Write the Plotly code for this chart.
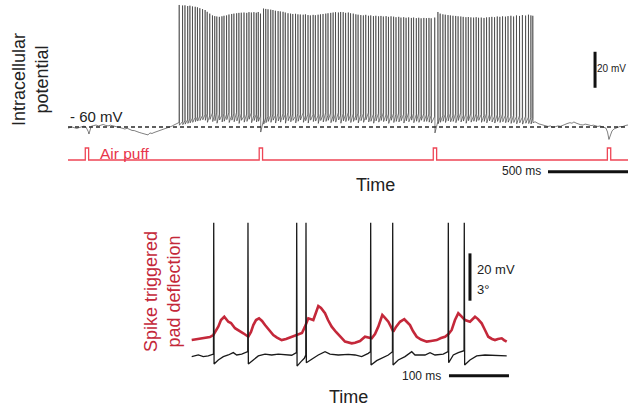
import plotly.graph_objects as go

W, H = 628, 406

# ---------------- Top panel data (ms, mV) ----------------
resting_mv = -60
top_span_ms = [0, 3500]

pre_t = [0, 12, 25, 40, 55, 70, 85, 100, 112, 120, 126, 131, 137, 145, 160, 175, 190, 205, 220, 235,
         250, 265, 280, 295, 310, 325, 340, 355, 370, 385, 400, 415, 430, 445, 460, 475, 490, 500, 512, 525,
         537, 550, 562, 575, 587, 600, 612, 625, 637, 650, 662, 675, 688]
pre_mv = [-60.6, -60.1, -60.0, -60.4, -60.8, -60.3, -59.8, -59.5, -60.0, -61.0,
          -62.4, -63.9, -61.7, -59.6, -59.2, -58.9, -59.4, -59.0, -58.6, -59.1,
          -59.4, -59.0, -59.2, -59.7, -60.0, -60.3, -60.9, -61.1, -60.7, -61.3,
          -61.9, -62.0, -62.3, -63.0, -63.4, -63.9, -64.2, -64.4, -63.3, -63.6,
          -63.1, -62.7, -62.5, -62.0, -61.7, -61.2, -60.6, -60.4, -60.0, -59.5,
          -58.9, -58.3, -57.8]

spike_t = [695, 716, 731, 748, 762, 778, 795, 809, 824, 841,
           857, 870, 886, 903, 917, 930, 946, 962, 975, 991,
           1006, 1023, 1037, 1054, 1068, 1083, 1100, 1117, 1131, 1146,
           1162, 1177, 1189, 1203, 1222, 1236, 1250, 1267, 1281, 1296,
           1313, 1327, 1344, 1358, 1375, 1391, 1405, 1422, 1437, 1452,
           1470, 1484, 1500, 1515, 1532, 1546, 1563, 1578, 1594, 1611,
           1625, 1642, 1657, 1672, 1690, 1704, 1720, 1735, 1752, 1766,
           1783, 1799, 1813, 1830, 1846, 1861, 1878, 1892, 1909, 1924,
           1941, 1956, 1971, 1988, 2003, 2019, 2035, 2050, 2067, 2081,
           2098, 2113, 2129, 2146, 2160, 2177, 2192, 2207, 2224, 2240,
           2256, 2270, 2292, 2312, 2326, 2343, 2358, 2375, 2390, 2406,
           2423, 2438, 2455, 2470, 2487, 2502, 2518, 2535, 2551, 2566,
           2583, 2600, 2616, 2633, 2649, 2666, 2683, 2699, 2716, 2734,
           2750, 2768, 2785, 2803, 2822, 2840, 2860, 2878, 2893, 2905]
spike_peak = [7.8, 7.5, 7.6, 7.2, 7.4, 7.0, 6.8, 6.5, 6.0, 5.5,
              5.0, 4.0, 3.0, 2.0, 1.6, 1.4, 1.2, 1.5, 1.8, 2.0,
              2.5, 2.8, 3.0, 3.2, 3.4, 3.5, 3.6, 3.4, 3.8, 3.6,
              3.8, 3.5, 3.9, 3.0, 5.8, 5.6, 5.4, 5.2, 5.0, 4.6,
              4.4, 4.2, 4.0, 3.6, 3.2, 3.0, 2.8, 2.9, 2.6, 2.5,
              2.4, 2.6, 2.2, 2.0, 2.3, 2.1, 2.4, 2.6, 2.8, 3.0,
              3.2, 3.4, 3.6, 3.8, 3.6, 3.9, 3.8, 3.4, 3.6, 3.2,
              3.0, 2.6, 2.4, 2.2, 2.0, 2.3, 1.8, 2.0, 1.6, 1.8,
              1.5, 1.7, 1.4, 1.6, 1.2, 1.5, 1.3, 1.0, 1.2, 0.8,
              1.0, 0.7, 0.9, 0.6, 0.8, 0.5, 0.7, 0.4, 0.6, 0.5,
              0.6, 0.4, 0.8, 3.9, 3.0, 2.6, 2.4, 2.2, 2.0, 1.8,
              1.7, 1.5, 1.4, 1.2, 1.0, 1.1, 0.9, 0.8, 1.0, 0.7,
              0.8, 0.6, 0.9, 1.0, 1.2, 1.0, 1.4, 1.2, 1.5, 1.3,
              1.6, 1.8, 1.4, 2.0, 1.7, 2.2, 1.9, 2.4, 2.0, 1.8]
spike_pre = [-57.5, -57.0, -56.6, -56.0, -55.6, -55.1, -54.8, -54.4, -54.0, -53.6,
             -53.2, -52.6, -53.8, -52.2, -53.0, -51.8, -52.9, -53.5, -52.4, -53.1,
             -52.0, -53.6, -52.7, -51.9, -53.3, -52.5, -54.0, -52.8, -53.4, -52.1,
             -53.7, -52.9, -53.2, -54.0, -56.5, -55.0, -54.2, -53.5, -52.8, -53.6,
             -52.3, -53.9, -52.6, -53.1, -51.9, -53.4, -52.7, -54.1, -52.5, -53.0,
             -52.1, -53.7, -52.9, -51.7, -53.2, -52.4, -53.8, -52.6, -53.3, -52.0,
             -53.5, -52.2, -53.9, -52.8, -52.0, -53.6, -52.5, -53.1, -51.8, -53.4,
             -52.7, -53.8, -52.3, -53.0, -52.6, -54.0, -52.1, -53.5, -52.9, -53.2,
             -52.4, -53.7, -52.0, -53.3, -52.8, -53.9, -52.5, -53.0, -52.2, -53.6,
             -52.9, -53.4, -52.1, -53.8, -52.6, -53.1, -52.3, -54.0, -52.7, -53.3,
             -52.8, -53.5, -54.2, -57.0, -54.5, -53.6, -52.9, -53.3, -52.4, -53.8,
             -52.6, -53.2, -52.0, -53.7, -52.8, -53.4, -52.3, -53.9, -52.7, -53.1,
             -53.0, -53.6, -52.5, -53.3, -52.9, -54.0, -53.2, -53.7, -52.8, -53.5,
             -53.4, -54.1, -53.6, -54.3, -53.8, -54.6, -54.0, -54.5, -54.8, -55.2]
spike_post = [-59.0, -58.7, -58.4, -58.0, -57.7, -57.4, -57.0, -56.7, -56.4, -56.0,
              -56.3, -57.4, -55.8, -57.0, -56.5, -57.9, -56.1, -57.2, -56.8, -55.9,
              -57.5, -56.2, -57.1, -56.6, -58.0, -56.3, -57.3, -56.9, -55.7, -57.6,
              -56.4, -57.2, -56.8, -62.8, -58.4, -57.6, -56.9, -57.4, -56.2, -57.8,
              -56.6, -57.3, -56.0, -57.9, -56.5, -57.1, -56.3, -57.7, -56.8, -56.1,
              -57.4, -56.5, -57.8, -56.2, -57.0, -56.7, -58.0, -56.4, -57.2, -56.9,
              -56.3, -57.6, -56.8, -57.3, -56.1, -57.9, -56.6, -57.0, -56.4, -57.5,
              -56.9, -56.2, -57.7, -56.5, -57.4, -56.0, -57.2, -56.8, -57.9, -56.6,
              -57.3, -56.4, -57.0, -56.7, -58.0, -56.3, -57.5, -56.9, -57.2, -56.5,
              -57.8, -56.6, -57.1, -56.2, -57.6, -56.8, -57.4, -56.3, -57.0, -56.9,
              -57.3, -57.8, -63.3, -58.2, -57.4, -56.8, -57.5, -56.6, -57.1, -56.9,
              -57.6, -56.4, -57.2, -56.7, -57.9, -56.5, -57.3, -56.8, -57.0, -56.3,
              -57.4, -56.9, -57.7, -56.6, -57.2, -57.8, -56.9, -57.5, -57.1, -57.6,
              -57.3, -58.0, -57.5, -58.2, -57.7, -58.4, -57.9, -58.1, -58.3, -57.6]

post_t = [2919, 2932, 2944, 2957, 2969, 2985, 3000, 3015, 3031, 3047,
          3062, 3078, 3094, 3106, 3119, 3137, 3150, 3162, 3175, 3187,
          3203, 3219, 3232, 3244, 3257, 3269, 3285, 3300, 3312, 3325,
          3337, 3350, 3362, 3372, 3381, 3391, 3400, 3412, 3431, 3450,
          3462, 3475, 3487, 3500]
post_mv = [-57.1, -57.9, -58.3, -58.6, -58.9, -59.3, -59.7, -59.4, -60.2, -59.8,
           -59.4, -59.6, -59.2, -58.6, -58.1, -57.6, -57.9, -57.2, -57.8, -58.3,
           -58.7, -58.9, -58.4, -58.6, -59.0, -59.2, -59.0, -59.4, -59.7, -59.4,
           -59.8, -60.0, -60.6, -62.8, -66.9, -64.4, -62.2, -61.1, -60.3, -59.7,
           -59.9, -59.4, -59.1, -58.9]

puff_on_ms = [108, 1195, 2283, 3371]
puff_dur_ms = 21

# ---------------- Bottom panel data ----------------
bt_t = [0, 11, 19.3, 27.7, 36.3, 37.3, 44.3, 52.7, 61, 69.3,
        75, 83.3, 93.4, 94.4, 102.7, 111, 122.2, 133.3, 144.3, 155.5,
        166.7, 174.6, 175.6, 182.2, 187.7, 190.1, 191.1, 200, 211, 222.2,
        230.5, 244.3, 261, 272.2, 283.3, 294.3, 297.9, 298.9, 308.3, 316.7,
        327.7, 334.6, 335.6, 344.3, 355.5, 366.7, 372.2, 388.8, 397.2, 405.5,
        419.3, 427.3, 428.3, 436, 444.3, 453.9, 454.9, 463.8, 475, 488.8,
        505.5, 525]
bt_mv = [-60.4, -59.7, -60.4, -60.1, -59.3, -63.5, -61.8, -60.4, -59.7, -58.7,
         -59.7, -59.3, -58.3, -63.5, -61.8, -60.1, -59.3, -59.7, -59.3, -59.7,
         -59.8, -58.7, -64.4, -62.5, -61.1, -59.7, -63.0, -61.5, -59.7, -58.3,
         -59.3, -59.7, -59.4, -59.7, -60.4, -59.0, -58.3, -63.9, -62.1, -61.1,
         -59.7, -58.3, -63.9, -61.8, -60.4, -58.3, -59.7, -59.7, -58.7, -59.7,
         -59.3, -58.3, -63.0, -59.7, -58.7, -57.9, -63.9, -61.8, -60.1, -59.7,
         -59.8, -60.1]
b_spike_t = [36.7, 93.8, 175, 190.5, 298.3, 335, 427.7, 454.3]
b_spike_peak_mv = -3.8

red_t = [0, 10.5, 22.2, 30.3, 36, 44.3, 48.8, 54.3, 61, 65.5,
         72.2, 78.8, 86, 94.3, 98.8, 102.7, 107.2, 112.2, 117.2, 122.2,
         128.8, 136, 142.2, 150, 157.2, 166.7, 177.7, 183.8, 188.8, 194.3,
         202.7, 207.2, 211, 215.5, 222.2, 227.2, 233.3, 240.5, 247.2, 255.5,
         266.7, 272.2, 280.5, 288.8, 300, 305.5, 311, 314.7, 317.7, 322.2,
         327.7, 332.2, 336, 340.5, 347.2, 354.3, 358.8, 363.8, 368.8, 375,
         382.2, 391.7, 398.8, 408.3, 415.5, 422.2, 428, 433.3, 438.8, 444.3,
         448.8, 455.5, 463.8, 472.2, 477.2, 483.3, 488.8, 494.3, 500.5, 505.5,
         510.5, 516.7, 520.5, 525]
red_deg = [-0.13, -0.06, -0.02, 0.06, 0.19, 0.72, 1.14, 1.35, 1.03, 0.95,
           0.62, 0.44, 0.30, 0.08, 0.38, 0.82, 1.14, 1.25, 1.08, 0.82,
           0.51, 0.19, 0.03, -0.13, -0.06, 0.08, 0.23, 0.32, 0.72, 1.25,
           1.14, 1.65, 2.03, 1.90, 1.57, 1.14, 0.72, 0.38, 0.08, -0.23,
           -0.34, -0.30, -0.19, 0.08, -0.02, 0.25, 0.72, 1.14, 1.46, 1.27,
           1.03, 0.70, 0.40, 0.70, 1.03, 1.19, 1.01, 0.82, 0.44, 0.08,
           -0.10, -0.23, -0.19, -0.13, 0, 0.08, 0.25, 0.51, 1.14, 1.57,
           1.40, 1.14, 1.03, 1.35, 1.20, 0.93, 0.51, 0.08, -0.06, -0.13,
           -0.06, -0.02, -0.13, -0.23]

# scale bars
scale_mv = 20
scale_top_ms = 500
scale_bot_ms = 100
scale_deg_label = "3°"

# ---------------- build traces ----------------
FONT = "Arial, Liberation Sans, sans-serif"
RED_TOP = "#ee4656"
RED_BOT = "#c4283a"

top_x = list(pre_t)
top_y = list(pre_mv)
for t, pk, a, b in zip(spike_t, spike_peak, spike_pre, spike_post):
    top_x += [t - 0.8, t, t + 1.5]
    top_y += [a, pk, b]
top_x += post_t
top_y += post_mv

puff_x = [top_span_ms[0]]
puff_y = [0]
for on in puff_on_ms:
    puff_x += [on, on, on + puff_dur_ms, on + puff_dur_ms]
    puff_y += [0, 1, 1, 0]
puff_x.append(top_span_ms[1])
puff_y.append(0)

pts = list(zip(bt_t, bt_mv)) + [(t, b_spike_peak_mv) for t in b_spike_t]
pts.sort(key=lambda p: p[0])
blk_x = [p[0] for p in pts]
blk_y = [p[1] for p in pts]

fig = go.Figure()
common = dict(mode="lines", hoverinfo="skip", showlegend=False)

# top
fig.add_trace(go.Scatter(x=top_span_ms, y=[resting_mv, resting_mv], xaxis="x", yaxis="y",
                         line=dict(color="#2a2a2a", width=1.6, dash="4px,3px"), **common))
fig.add_trace(go.Scatter(x=top_x, y=top_y, xaxis="x", yaxis="y",
                         line=dict(color="#2a2a2a", width=0.6), **common))
fig.add_trace(go.Scatter(x=puff_x, y=puff_y, xaxis="x", yaxis="y3",
                         line=dict(color=RED_TOP, width=1.3), **common))
# top scale bars
fig.add_trace(go.Scatter(x=[3294, 3294], y=[-38.2, -38.2 + scale_mv], xaxis="x", yaxis="y",
                         line=dict(color="#111", width=3), cliponaxis=False, **common))
fig.add_trace(go.Scatter(x=[top_span_ms[1] - scale_top_ms, top_span_ms[1]], y=[-84.8, -84.8],
                         xaxis="x", yaxis="y", line=dict(color="#111", width=3), cliponaxis=False, **common))

# bottom
fig.add_trace(go.Scatter(x=red_t, y=red_deg, xaxis="x2", yaxis="y2",
                         line=dict(color=RED_BOT, width=2.6), **common))
fig.add_trace(go.Scatter(x=blk_x, y=blk_y, xaxis="x2", yaxis="y4",
                         line=dict(color="#1a1a1a", width=1.3), **common))
fig.add_trace(go.Scatter(x=[463.8, 463.8], y=[-36.74, -36.74 + scale_mv], xaxis="x2", yaxis="y4",
                         line=dict(color="#111", width=3), cliponaxis=False, **common))
fig.add_trace(go.Scatter(x=[428.8, 428.8 + scale_bot_ms], y=[-68.46, -68.46], xaxis="x2", yaxis="y4",
                         line=dict(color="#111", width=3), cliponaxis=False, **common))


def px(x):
    return x / W


def py(y):
    return 1 - y / H


def ann(text, x, y, size, color="#222", xanchor="center", angle=0):
    return dict(text=text, x=px(x), y=py(y), xref="paper", yref="paper", showarrow=False,
                xanchor=xanchor, yanchor="middle", textangle=angle,
                font=dict(family=FONT, size=size, color=color))


annotations = [
    ann("Intracellular<br>potential", 31, 80, 18, angle=-90),
    ann("- 60 mV", 96, 117, 15),
    ann("Air puff", 125, 153, 15.5, color="#e8344a"),
    ann(f"{scale_mv} mV", 628, 69, 10, xanchor="right"),
    ann(f"{scale_top_ms} ms", 543, 171, 12, xanchor="right"),
    ann("Time", 375, 185, 18),
    ann("Spike triggered<br>pad deflection", 162, 292, 18, color=RED_BOT, angle=-90),
    ann(f"{scale_mv} mV", 475, 269, 13, xanchor="left"),
    ann(scale_deg_label, 475, 289, 13, xanchor="left"),
    ann(f"{scale_bot_ms} ms", 443, 376, 12, xanchor="right"),
    ann("Time", 348, 397, 18),
]

noax = dict(visible=False, showgrid=False, zeroline=False, fixedrange=True)
fig.update_layout(
    width=W, height=H, margin=dict(l=0, r=0, t=0, b=0),
    paper_bgcolor="white", plot_bgcolor="rgba(0,0,0,0)",
    xaxis=dict(domain=[68 / W, 1], range=[0, 3500], anchor="y", **noax),
    yaxis=dict(domain=[1 - 180 / H, 1], range=[-89.44, 10.56], anchor="x", **noax),
    yaxis3=dict(overlaying="y", range=[-1.667, 13.333], anchor="x", **noax),
    xaxis2=dict(domain=[180 / W, 520 / W], range=[-19.5, 547.17], anchor="y2", **noax),
    yaxis2=dict(domain=[1 - 385 / H, 1 - 215 / H], range=[-2.98, 7.80], anchor="x2", **noax),
    yaxis4=dict(overlaying="y2", range=[-72.39, -0.51], anchor="x2", **noax),
    annotations=annotations,
)

fig.write_html("out.html")
